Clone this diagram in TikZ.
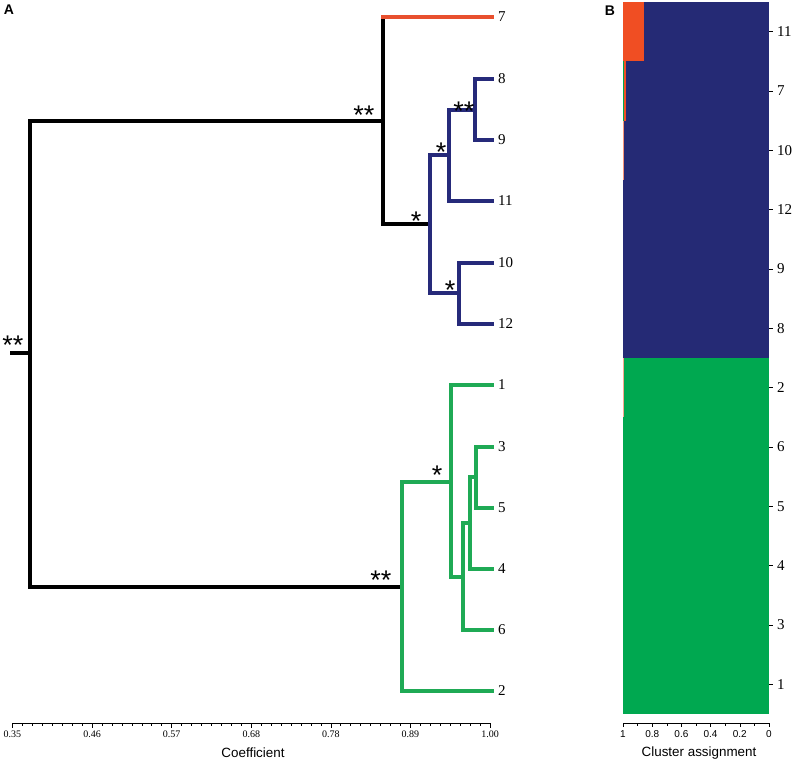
\documentclass[tikz,border=0pt]{standalone}
\usepackage{fontspec}
\setmainfont{Liberation Serif}
\newfontfamily\sans{Liberation Sans}
\definecolor{tred}{HTML}{E8502E}
\definecolor{tblue}{HTML}{262A7A}
\definecolor{tgreen}{HTML}{1FAA55}
\definecolor{bred}{HTML}{F04E23}
\definecolor{bblue}{HTML}{252A75}
\definecolor{bgreen}{HTML}{00A850}
\begin{document}
\begin{tikzpicture}[x=1pt,y=-1pt,
  br/.style={line width=3.4pt,line join=miter,line cap=rect},
  leaf/.style={anchor=west,inner sep=0pt,font=\fontsize{15}{16}\selectfont},
  sig/.style={inner sep=0pt,font=\sans\fontsize{27}{27}\selectfont},
  ticklab/.style={inner sep=0pt,font=\fontsize{10}{10}\selectfont},
  sticklab/.style={inner sep=0pt,font=\sans\fontsize{10}{10}\selectfont},
  axlab/.style={inner sep=0pt,font=\sans\fontsize{13.4}{14}\selectfont},
  panlab/.style={inner sep=0pt,font=\sans\bfseries\fontsize{14}{14}\selectfont}]
\useasboundingbox (0,0) rectangle (793,763);
% panel labels
\node[panlab] (pA) at (9,10) {A};
\node[panlab] (pB) at (610,11) {B};
% leaf coordinates
\foreach \n/\y in {7/17,8/79,9/140,11/201,10/263,12/324,1/385,3/447,5/508,4/569,6/630,2/691}{
  \coordinate (e\n) at (492,\y);
  \node[leaf] (t\n) at (498,\y) {\n};
}
% internal nodes
\coordinate (r0) at (12,353);
\coordinate (r) at (30,353);
\coordinate (a) at (383,121);
\coordinate (b) at (430,224);
\coordinate (c) at (449,155);
\coordinate (d) at (475,110);
\coordinate (e) at (459,293);
\coordinate (g) at (402,587);
\coordinate (h) at (451,482);
\coordinate (i) at (463,577);
\coordinate (j) at (470,523);
\coordinate (k) at (476,477);
% black backbone
\draw[br] (r0) -- (r);
\draw[br] (a) -| (r);
\draw[br] (g) -| (r);
\draw[br] (a |- e7) -- (a |- b) -- (b);
% red
\draw[br,tred] (a |- e7) -- (e7);
% blue
\draw[br,tblue] (c) -| (b) |- (e);
\draw[br,tblue] (d) -| (c) |- (e11);
\draw[br,tblue] (e8) -| (d) |- (e9);
\draw[br,tblue] (e10) -| (e) |- (e12);
% green
\draw[br,tgreen] (h) -| (g) |- (e2);
\draw[br,tgreen] (e1) -| (h) |- (i);
\draw[br,tgreen] (j) -| (i) |- (e6);
\draw[br,tgreen] (k) -| (j) |- (e4);
\draw[br,tgreen] (e3) -| (k) |- (e5);
% significance
\node[sig] (s0) at (13,345) {**};
\node[sig] (sa) at (364,115) {**};
\node[sig] (sd) at (464,111) {**};
\node[sig] (sc) at (441,152) {*};
\node[sig] (sb) at (416,221) {*};
\node[sig] (se) at (450,290) {*};
\node[sig] (sg) at (381,580) {**};
\node[sig] (sh) at (437,475) {*};
% axis A
\coordinate (ax0) at (12.5,723);
\coordinate (ax1) at (490,723);
\draw[line width=0.6pt] (ax0) -- (ax1);
\foreach \t in {0,...,48}{
  \draw[line width=0.6pt] ({12.5+\t*9.9479},723) -- ++(0,3);
}
\foreach \t/\l in {0/0.35,1/0.46,2/0.57,3/0.68,4/0.78,5/0.89,6/1.00}{
  \draw[line width=0.6pt] ({12.5+\t*79.583},723) -- ++(0,4.5);
  \node[ticklab] at ({12.5+\t*79.583},734) {\l};
}
\node[axlab] (xA) at (253,753) {Coefficient};
% panel B bars
\fill[bblue] (623,2) rectangle (769,358);
\fill[bgreen] (623,358) rectangle (769,714);
\fill[bred] (623,2) rectangle (644,61.3);
\fill[bred] (623,61.3) rectangle (626,120.7);
\fill[bgreen] (623,61.3) rectangle (623.8,120.7);
\fill[bred!60] (623,120.7) rectangle (623.8,180);
\fill[bred!50] (623,358) rectangle (623.8,417);
\foreach \n [count=\q] in {11,7,10,12,9,8,2,6,5,4,3,1}{
  \draw[line width=0.6pt] (769,{2+(\q-0.5)*59.33}) -- ++(4,0);
  \node[leaf] (b\n) at (777,{2+(\q-0.5)*59.33}) {\n};
}
% axis B
\draw[line width=0.6pt] (623,723) -- (769,723);
\foreach \v/\l in {0/1,1/0.8,2/0.6,3/0.4,4/0.2,5/0}{
  \draw[line width=0.6pt] ({623+\v*29.2},723) -- ++(0,4);
  \node[sticklab] at ({623+\v*29.2},734) {\l};
}
\foreach \v in {0,...,10}{
  \draw[line width=0.6pt] ({623+\v*14.6},723) -- ++(0,2.5);
}
\node[axlab] (xB) at (699,753) {Cluster assignment};
\end{tikzpicture}
\end{document}
